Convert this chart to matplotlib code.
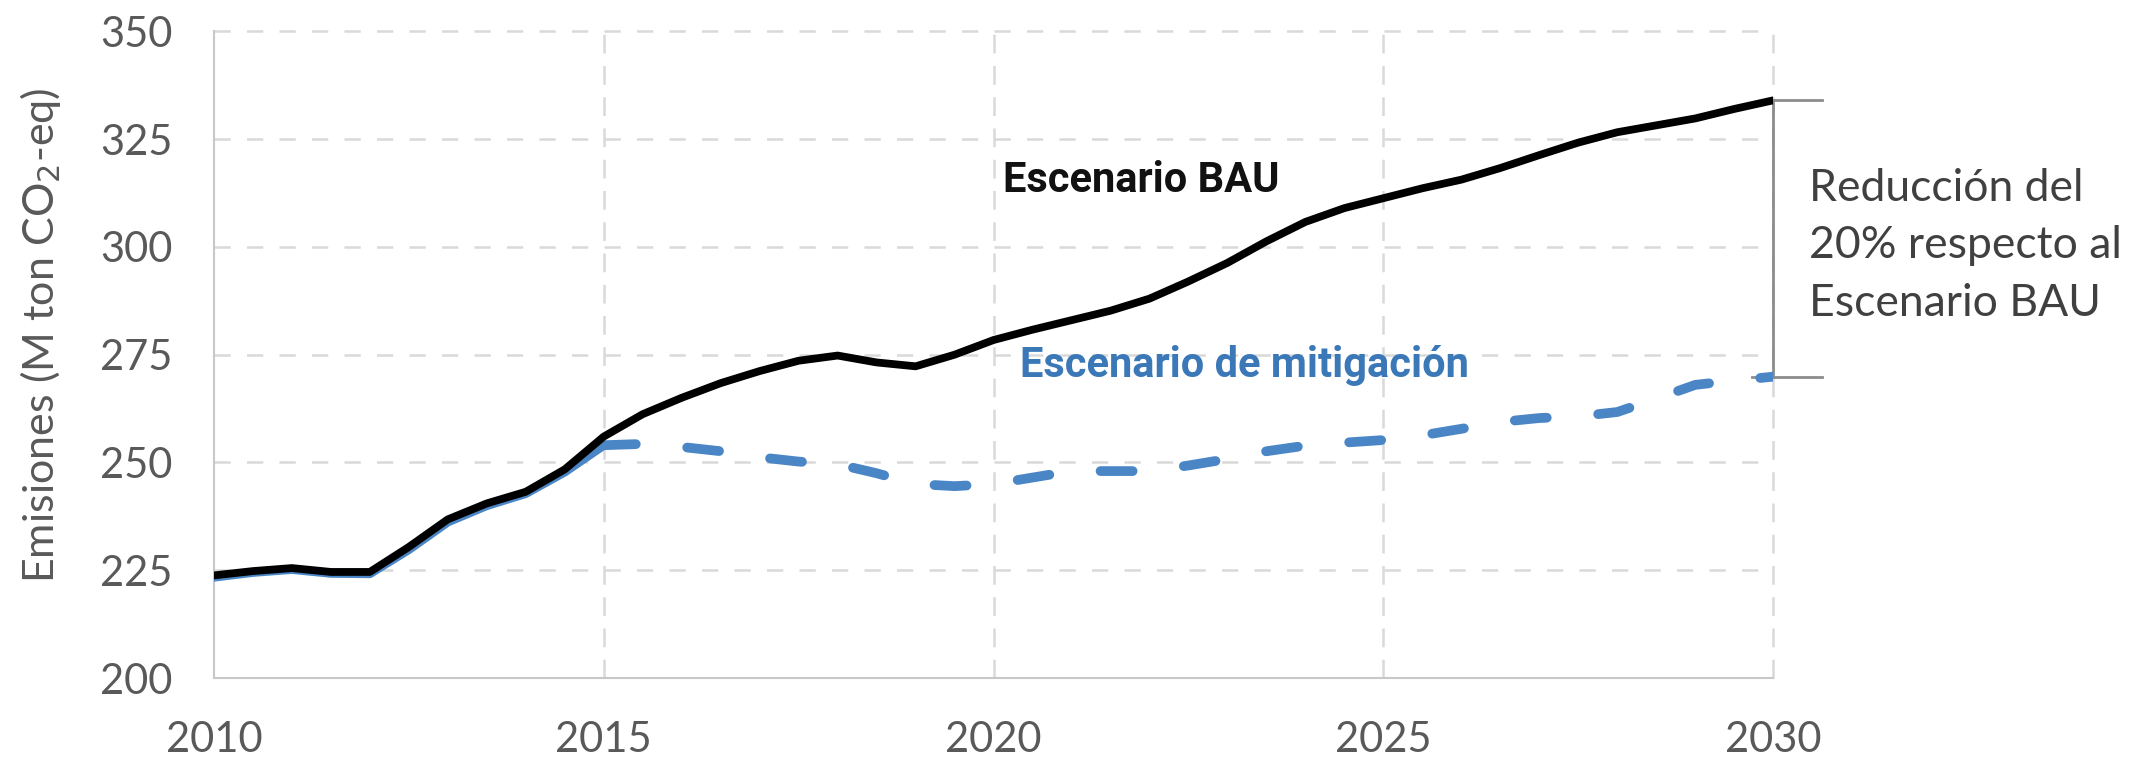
import matplotlib
matplotlib.use("Agg")
import matplotlib.pyplot as plt
import numpy as np

# ---- data ----
years = [2010.0, 2010.5, 2011.0, 2011.5, 2012.0, 2012.5, 2013.0, 2013.5, 2014.0, 2014.5,
         2015.0, 2015.5, 2016.0, 2016.5, 2017.0, 2017.5, 2018.0, 2018.5, 2019.0, 2019.5,
         2020.0, 2020.5, 2021.0, 2021.5, 2022.0, 2022.5, 2023.0, 2023.5, 2024.0, 2024.5,
         2025.0, 2025.5, 2026.0, 2026.5, 2027.0, 2027.5, 2028.0, 2028.5, 2029.0, 2029.5,
         2030.0]
bau = [223.8, 224.8, 225.5, 224.6, 224.6, 230.4, 236.8, 240.5, 243.2, 248.4,
       256.0, 261.2, 265.0, 268.4, 271.2, 273.6, 274.8, 273.2, 272.3, 275.0,
       278.4, 280.8, 283.0, 285.2, 288.0, 292.0, 296.3, 301.3, 305.8, 309.0,
       311.3, 313.6, 315.6, 318.3, 321.3, 324.2, 326.6, 328.2, 329.8, 332.0,
       334.0]
mitig = [223.4, 224.5, 225.2, 224.3, 224.2, 229.8, 236.2, 240.0, 242.8, 247.8,
         254.0, 254.3, 253.6, 252.6, 251.2, 250.2, 249.6, 247.5, 245.0, 244.5,
         245.0, 246.5, 248.0, 248.0, 248.0, 249.3, 250.8, 252.6, 253.9, 254.6,
         255.2, 256.3, 257.8, 259.4, 260.3, 260.7, 261.7, 264.8, 268.0, 269.0,
         269.9]
split_year = 2015.0
xticks = [2010, 2015, 2020, 2025, 2030]
yticks = [200, 225, 250, 275, 300, 325, 350]
label_bau = "Escenario BAU"
label_mit = "Escenario de mitigación"
bracket_text = "Reducción del\n20% respecto al\nEscenario BAU"
ylabel = "Emisiones (M ton CO$_2$-eq)"

# ---- figure ----
fig = plt.figure(figsize=(21.39, 7.63), dpi=100)
ax = fig.add_axes([0.1000, 0.1114, 0.7290, 0.8475])

tick_font = ["Lato", "DejaVu Sans"]
cond_font = ["Roboto", "DejaVu Sans"]

grid_col = "#d9d9d9"
ax.set_xlim(2010, 2030)
ax.set_ylim(200, 350)
ax.set_xticks(xticks)
ax.set_yticks(yticks)
for y in yticks[1:]:
    ax.axhline(y, color=grid_col, lw=1.8, linestyle=(0, (6.5, 6.5)), zorder=1, clip_on=False)
for x in xticks[1:]:
    ax.axvline(x, color=grid_col, lw=1.8, linestyle=(0, (7.5, 5.0)), zorder=1, clip_on=False)

for s in ["top", "right"]:
    ax.spines[s].set_visible(False)
for s in ["left", "bottom"]:
    ax.spines[s].set_color("#c8c8c8")
    ax.spines[s].set_linewidth(1.5)

ax.tick_params(axis="both", length=0, colors="#595959", labelsize=30)
ax.tick_params(axis="x", pad=31)
ax.tick_params(axis="y", pad=30)
for lab in ax.get_xticklabels() + ax.get_yticklabels():
    lab.set_family(tick_font)

ax.set_ylabel(ylabel, fontsize=31, color="#595959", family=tick_font)
ax.yaxis.label.set_verticalalignment("center")
ax.yaxis.set_label_coords(-0.111, 0.53)

yrs = np.array(years)
mit = np.array(mitig)
pre = yrs <= split_year
post = yrs >= split_year

blue = "#4a86c6"
# mitigation (hidden under BAU before 2015)
ax.plot(yrs[pre], mit[pre], color=blue, lw=6.5, solid_capstyle="round",
        solid_joinstyle="round", zorder=3)
ax.plot(yrs[post], mit[post], color=blue, lw=7.0, linestyle=(0, (3.3, 5.3)),
        dash_capstyle="round", dash_joinstyle="round", zorder=3)
# BAU
ax.plot(yrs, bau, color="black", lw=5.6, solid_capstyle="round",
        solid_joinstyle="round", zorder=4)

# labels on chart
ax.text(2020.12, 315.5, label_bau, fontsize=30, fontweight="bold", color="#111111",
        family=cond_font, ha="left", va="center", zorder=5)
ax.text(2020.34, 272.6, label_mit, fontsize=30, fontweight="bold", color="#3a78b8",
        family=cond_font, ha="left", va="center", zorder=5)

# bracket
br_col = "#8c8c8c"
top_v = bau[-1]
bot_v = mitig[-1]
ax.plot([2030, 2030], [top_v, bot_v], color=br_col, lw=2.0, clip_on=False, zorder=2)
ax.plot([2029.85, 2030.62], [top_v, top_v], color=br_col, lw=2.0, clip_on=False, zorder=2)
ax.plot([2029.73, 2030.62], [bot_v, bot_v], color=br_col, lw=2.0, clip_on=False, zorder=2)
ax.text(2030.46, 300.3, bracket_text, fontsize=32, color="#404040", family=tick_font,
        ha="left", va="center", linespacing=1.5)

fig.savefig("out.png", dpi=100)
